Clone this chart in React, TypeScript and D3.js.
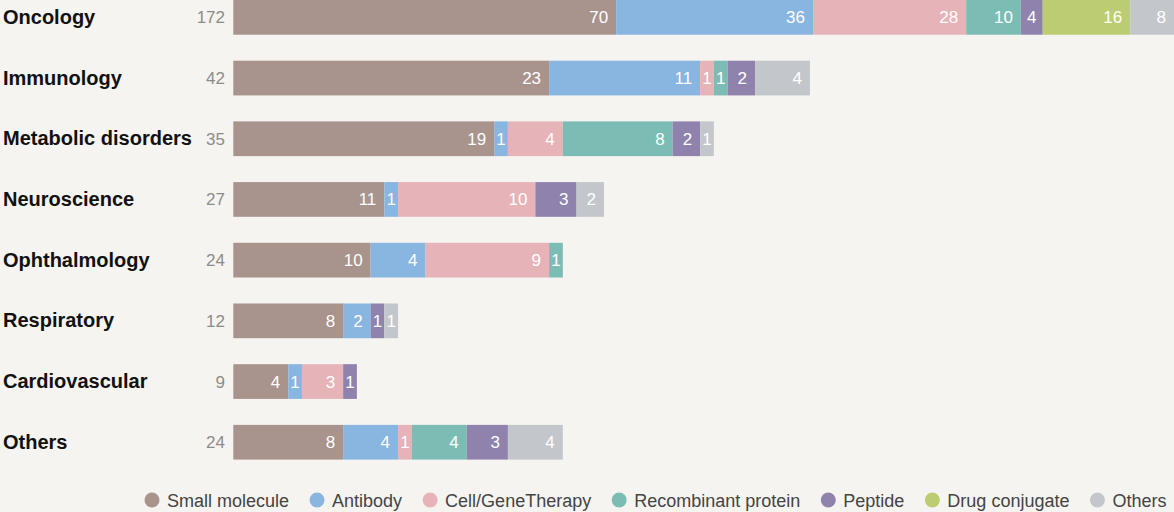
import React, { useEffect, useRef } from "react";
import * as d3 from "d3";

const categories = ["Oncology", "Immunology", "Metabolic disorders", "Neuroscience", "Ophthalmology", "Respiratory", "Cardiovascular", "Others"];
const seriesNames = ["Small molecule", "Antibody", "Cell/GeneTherapy", "Recombinant protein", "Peptide", "Drug conjugate", "Others"];
const smallMolecule = [70, 23, 19, 11, 10, 8, 4, 8];
const antibody = [36, 11, 1, 1, 4, 2, 1, 4];
const cellGene = [28, 1, 4, 10, 9, 0, 3, 1];
const recombinant = [10, 1, 8, 0, 1, 0, 0, 4];
const peptide = [4, 2, 2, 3, 0, 1, 1, 3];
const drugConjugate = [16, 0, 0, 0, 0, 0, 0, 0];
const others = [8, 4, 1, 2, 0, 1, 0, 4];
const colors = ["#a9938d", "#89b5e1", "#e6b3b8", "#7bbdb4", "#8f82ad", "#bbcc72", "#c3c7cb"];

const W = 1174;
const H = 512;
const BAR_X = 233.3;
const PX_PER_UNIT = 13.73;
const FONT = "'Liberation Sans', Arial, Helvetica, sans-serif";

const seriesValues = [smallMolecule, antibody, cellGene, recombinant, peptide, drugConjugate, others];
const rows = categories.map((c, i) => {
  const r: any = { category: c };
  seriesNames.forEach((s, j) => (r[s] = seriesValues[j][i]));
  return r;
});
const totals = categories.map((_, i) => seriesValues.reduce((a, s) => a + s[i], 0));

export default function App() {
  const legendRef = useRef<SVGGElement>(null);

  const stacked = d3.stack<any>().keys(seriesNames)(rows);
  const y = d3.scaleBand<string>().domain(categories).range([0, 459.6]).paddingInner(0.428).paddingOuter(0);
  const avail = W - BAR_X;
  // each row: natural scale, but rows that would overflow are compressed to fit
  const rowScale = totals.map((t) => {
    const natural = t * PX_PER_UNIT;
    const maxDomain = natural > avail ? t : avail / PX_PER_UNIT;
    return d3.scaleLinear().domain([0, maxDomain]).range([BAR_X, W]);
  });

  useEffect(() => {
    const g = d3.select(legendRef.current);
    g.selectAll("*").remove();
    let x = 152;
    const cy = 500;
    seriesNames.forEach((name, i) => {
      g.append("circle").attr("cx", x).attr("cy", cy).attr("r", 7.5).attr("fill", colors[i]);
      const t = g
        .append("text")
        .attr("x", x + 15)
        .attr("y", cy + 6.5)
        .attr("font-size", 18)
        .attr("font-family", FONT)
        .attr("fill", "#444")
        .text(name);
      const w = (t.node() as SVGTextElement).getComputedTextLength();
      x = x + 15 + w + 28;
    });
  }, []);

  const bw = y.bandwidth();

  return (
    <div style={{ position: "fixed", left: 0, top: 0 }}>
      <svg width={W} height={H} style={{ display: "block" }}>
        <rect x={0} y={0} width={W} height={H} fill="#f5f4f0" />
        {categories.map((c, i) => {
          const cy = (y(c) as number) + bw / 2;
          return (
            <g key={c}>
              <text x={3} y={cy + 6.5} fontFamily={FONT} fontWeight="bold" fontSize={20} fill="#111">
                {c}
              </text>
              <text x={225} y={cy + 6} fontFamily={FONT} fontSize={17} fill="#8c8c8c" textAnchor="end">
                {totals[i]}
              </text>
            </g>
          );
        })}
        {stacked.map((layer, si) => (
          <g key={seriesNames[si]}>
            {layer.map((d, i) => {
              const v = d[1] - d[0];
              if (v <= 0) return null;
              const sc = rowScale[i];
              const x0 = sc(d[0]);
              const x1 = sc(d[1]);
              const w = x1 - x0;
              const top = y(categories[i]) as number;
              const cy = top + bw / 2;
              const narrow = w < 22;
              return (
                <g key={i}>
                  <rect x={x0} y={top} width={w} height={bw} fill={colors[si]} />
                  <text
                    x={narrow ? (x0 + x1) / 2 : x1 - 8}
                    y={cy + 6}
                    textAnchor={narrow ? "middle" : "end"}
                    fontFamily={FONT}
                    fontSize={17}
                    fill="#ffffff"
                  >
                    {v}
                  </text>
                </g>
              );
            })}
          </g>
        ))}
        <g ref={legendRef} />
      </svg>
    </div>
  );
}
